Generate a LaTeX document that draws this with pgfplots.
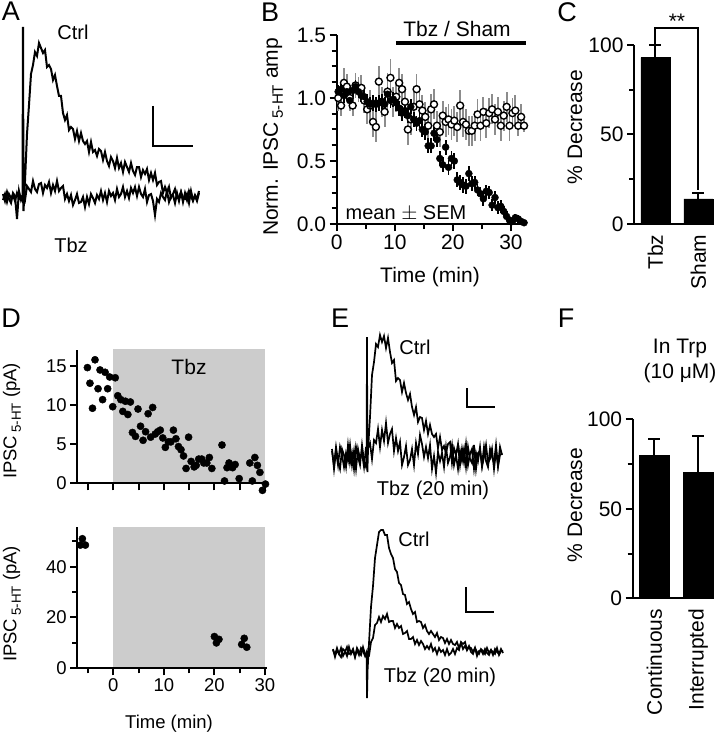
\documentclass[border=0pt]{standalone}
\usepackage{fontspec}
\setmainfont{Liberation Sans}
\usepackage{graphicx}
\usepackage{pgfplots}
\usepackage{pgfplotstable}
\pgfplotsset{compat=1.18}

\newcommand\fB{\fontsize{21}{25}\selectfont}
\newcommand\fD{\fontsize{18.5}{22}\selectfont}
\newcommand\fT{\fontsize{20}{24}\selectfont}
\newcommand\fL{\fontsize{27}{30}\selectfont}
\newcommand\sub[1]{\,\raisebox{-0.45ex}{\scalebox{0.72}{#1}}}

\pgfplotsset{
  prism/.style={scale only axis, anchor=south west, clip=false,
    axis lines=left, axis line style={line width=2pt,-},
    tick style={line width=2pt,black}, tick align=outside,
    major tick length=7pt, minor tick length=5pt,
    tick label style={font=\fB},
    /pgf/number format/assume math mode=true},
  trace/.style={scale only axis, anchor=south west, clip=false, hide axis},
}

% panel B: normalised IPSC amplitude, mean and SEM
\pgfplotstableread{
t tbz etbz sham esham
0.25 1.05 0.05 1.00 0.10
0.75 1.07 0.06 0.94 0.08
1.25 1.02 0.06 1.12 0.12
1.75 1.05 0.05 1.09 0.10
2.25 0.98 0.06 1.00 0.10
2.75 1.06 0.05 0.94 0.08
3.25 1.09 0.05 1.10 0.10
3.75 1.05 0.05 1.07 0.10
4.25 1.02 0.05 1.08 0.10
4.75 1.01 0.05 0.98 0.10
5.25 0.97 0.06 0.91 0.12
5.75 0.95 0.06 0.94 0.12
6.25 0.96 0.06 0.81 0.12
6.75 0.95 0.06 0.77 0.12
7.25 0.96 0.06 1.13 0.12
7.75 0.97 0.06 0.97 0.12
8.25 0.95 0.06 0.89 0.12
8.75 1.03 0.06 1.05 0.15
9.25 0.98 0.06 1.16 0.15
9.75 0.99 0.06 0.97 0.12
10.25 0.96 0.06 1.01 0.12
10.75 0.92 0.06 1.12 0.12
11.25 0.88 0.06 1.07 0.12
11.75 0.90 0.06 0.97 0.12
12.25 0.86 0.06 0.75 0.12
12.75 0.93 0.06 0.83 0.12
13.25 0.83 0.06 0.93 0.12
13.75 0.80 0.06 1.07 0.12
14.25 0.82 0.06 0.95 0.12
14.75 0.75 0.06 0.90 0.12
15.25 0.73 0.06 0.85 0.12
15.75 0.62 0.06 0.78 0.12
16.25 0.62 0.06 0.91 0.12
16.75 0.72 0.06 0.95 0.12
17.25 0.67 0.06 0.78 0.12
17.75 0.52 0.06 0.73 0.12
18.25 0.47 0.06 0.86 0.12
18.75 0.61 0.06 0.81 0.12
19.25 0.45 0.06 0.83 0.12
19.75 0.52 0.06 0.79 0.12
20.25 0.50 0.06 0.82 0.12
20.75 0.35 0.06 0.77 0.12
21.25 0.33 0.06 0.94 0.12
21.75 0.31 0.06 0.81 0.12
22.25 0.30 0.06 0.79 0.12
22.75 0.40 0.06 0.74 0.12
23.25 0.32 0.06 0.74 0.12
23.75 0.33 0.05 0.78 0.12
24.25 0.27 0.05 0.87 0.12
24.75 0.24 0.05 0.78 0.12
25.25 0.20 0.06 0.89 0.12
25.75 0.26 0.05 0.80 0.12
26.25 0.25 0.05 0.88 0.12
26.75 0.15 0.05 0.91 0.12
27.25 0.21 0.05 0.83 0.12
27.75 0.13 0.05 0.89 0.12
28.25 0.14 0.05 0.78 0.12
28.75 0.10 0.04 0.86 0.12
29.25 0.06 0.04 0.93 0.12
29.75 0.03 0.03 0.78 0.12
30.25 0.02 0.03 0.88 0.12
30.75 0.05 0.03 0.90 0.12
31.25 0.04 0.03 0.78 0.08
31.75 0.02 0.02 0.85 0.10
32.25 0.01 0.02 0.78 0.05
}\tabB

\begin{document}
\begin{tikzpicture}
\useasboundingbox (0,0) rectangle (722pt,-738pt);

% ---------- A: example traces
\begin{axis}[trace, at={(3pt,-222pt)}, width=197pt, height=195pt,
  xmin=0, xmax=197, ymin=-25, ymax=170]
\addplot[black, line width=2pt] coordinates {
(0,3)(2,-4)(4,5)(6,-2)(8,-6)(10,4)(12,1)(14,-22)(16,6)(18,-3)(20,2)(22,-3)(24,11)(26,8)(28,5)(30,16)(32,8)(34,5)(36,13)(38,14)(40,4)(42,12)(44,9)(46,15)(48,4)(50,12)(52,6)(54,16)(56,6)(58,9)(60,11)(62,-2)(64,3)(66,-4)(68,2)(70,-8)(72,-3)(74,3)(76,-6)(78,-5)(80,0)(82,-10)(84,0)(86,-7)(88,3)(90,-1)(92,-6)(94,2)(96,-2)(98,6)(100,-3)(102,4)(104,-5)(106,6)(108,1)(110,4)(112,-3)(114,8)(116,0)(118,3)(120,10)(122,0)(124,6)(126,-1)(128,9)(130,4)(132,10)(134,1)(136,10)(138,3)(140,0)(142,8)(144,-5)(146,2)(148,3)(150,-4)(152,-18)(154,-2)(156,-5)(158,4)(160,0)(162,-3)(164,6)(166,-5)(168,1)(170,2)(172,-6)(174,4)(176,-4)(178,5)(180,-1)(182,-2)(184,3)(186,-6)(188,6)(190,-3)(192,1)(194,-4)(196,4)};
\addplot[black, line width=2pt] coordinates {
(0,-3)(2,3)(4,-5)(6,3)(8,-1)(10,2)(12,-4)(14,4)(16,-2)(18,0)(19.5,-4)(20,170)(20.5,-14)(22,16)(24,63)(26,92)(28,123)(30,132)(32,145)(34,141)(36,154)(38,149)(40,144)(42,147)(44,130)(46,132)(48,128)(50,117)(52,122)(54,111)(56,101)(58,101)(60,84)(62,77)(64,82)(66,67)(68,70)(70,68)(72,58)(74,66)(76,56)(78,64)(80,56)(82,53)(84,56)(86,45)(88,55)(90,45)(92,47)(94,41)(96,48)(98,46)(100,37)(102,45)(104,36)(106,31)(108,40)(110,36)(112,29)(114,39)(116,29)(118,34)(120,25)(122,35)(124,30)(126,25)(128,34)(130,26)(132,22)(134,30)(136,30)(138,20)(140,27)(142,23)(144,28)(146,17)(148,24)(150,17)(152,24)(154,12)(156,15)(158,16)(160,4)(162,10)(164,4)(166,10)(168,-1)(170,3)(172,8)(174,-1)(176,0)(178,5)(180,-5)(182,4)(184,-3)(186,6)(188,1)(190,-4)(192,2)(194,-2)(196,6)};
\draw[line width=2pt] (axis cs:150,91) -- (axis cs:150,51) -- (axis cs:190,51);
\end{axis}

% ---------- B: time course
\begin{axis}[prism, at={(336.7pt,-224pt)}, width=188.8pt, height=189pt,
  xmin=0, xmax=32.5, ymin=0, ymax=1.5,
  xtick={0,10,20,30}, minor xtick={5,15,25},
  ytick={0,0.5,1,1.5}, yticklabels={0.0,0.5,1.0,1.5},
  minor ytick={0.125,0.25,0.375,0.625,0.75,0.875,1.125,1.25,1.375}]
\addplot[only marks, mark=*, mark size=3.5pt,
  mark options={fill=white, draw=black, line width=1.4pt},
  error bars/.cd, y dir=both, y explicit, error mark=none,
  error bar style={line width=1.8pt, black!45}]
  table[x=t, y=sham, y error=esham] {\tabB};
\addplot[only marks, mark=*, mark size=3.5pt,
  mark options={fill=black, draw=black},
  error bars/.cd, y dir=both, y explicit, error mark=none,
  error bar style={line width=1.8pt, black}]
  table[x=t, y=tbz, y error=etbz] {\tabB};
\draw[line width=4pt] (axis cs:10.2,1.44) -- (axis cs:32.6,1.44);
\end{axis}

% ---------- C: bar chart
\begin{axis}[prism, at={(634pt,-224pt)}, width=79pt, height=179pt,
  xmin=-0.5, xmax=1.34, ymin=0, ymax=100,
  ytick={0,50,100}, minor ytick={25,75},
  xtick=\empty]
\addplot[ybar, bar width=29pt, fill=black, draw=black,
  error bars/.cd, y dir=plus, y explicit,
  error bar style={line width=2pt, black},
  error mark options={rotate=90, mark size=6pt, line width=2pt}]
  coordinates {(0,93) +- (0,7) (1,14) +- (0,3.5)};
\draw[line width=2pt] (axis cs:0,100) -- (axis cs:0,109.5) -- (axis cs:1,109.5) -- (axis cs:1,19);
\node[font=\fB, anchor=south] at (axis cs:0.5,107) {**};
\node[font=\fB, rotate=90, anchor=east] at ([yshift=-7pt]axis cs:0,0) {Tbz};
\node[font=\fB, rotate=90, anchor=east] at ([yshift=-7pt]axis cs:1,0) {Sham};
\end{axis}

% ---------- D top: single cell
\begin{axis}[prism, axis on top, at={(77.3pt,-483.3pt)}, width=189.7pt, height=132.9pt,
  xmin=-7.1, xmax=30.4, ymin=0, ymax=17,
  xtick={-5,0,5,10,15,20,25,30}, xticklabels={},
  ytick={0,5,10,15}, tick label style={font=\fD}]
\addplot[fill=black!20, draw=none] coordinates {(0,17.2) (30,17.2)} \closedcycle;
\addplot[only marks, mark=*, mark size=3.6pt, black] coordinates {
(-5.1,14.8)(-4.6,12.8)(-4.1,9.6)(-3.6,15.8)(-3.0,12.1)(-2.6,14.5)(-2.1,10.7)(-1.6,14.2)(-1.1,12.1)(-0.7,13.6)(-0.1,9.8)(0.4,13.5)(0.9,11.2)(1.5,10.7)(1.9,9.2)(2.4,10.5)(2.9,8.8)(3.4,10.4)(3.8,6.5)(4.4,6.0)(4.9,9.5)(5.4,7.3)(5.9,5.5)(6.4,6.6)(6.9,8.9)(7.4,5.9)(7.8,9.7)(8.3,6.3)(8.8,6.6)(9.3,6.8)(9.8,5.8)(10.3,4.6)(10.9,5.3)(11.4,5.3)(11.9,6.8)(12.4,5.7)(12.9,4.7)(13.4,4.3)(13.9,3.5)(14.4,1.9)(14.9,5.9)(15.4,2.8)(16.0,2.1)(16.4,2.3)(16.9,3.1)(17.5,3.1)(17.9,2.6)(18.5,2.6)(19.0,3.3)(19.5,1.9)(21.5,4.9)(22.0,0.3)(22.5,2.0)(22.9,2.6)(23.6,2.0)(24.1,2.4)(24.9,0.6)(27.0,2.6)(27.5,0.3)(28.0,3.3)(28.5,2.3)(29.0,1.4)(29.5,-0.9)(30.1,-0.1)};
\end{axis}

% ---------- D bottom: interrupted recording
\begin{axis}[prism, axis on top, at={(77.3pt,-668.3pt)}, width=189.7pt, height=141pt,
  xmin=-7.1, xmax=30.4, ymin=0, ymax=55.5,
  xtick={0,10,20,30}, minor xtick={-5,5,15,25},
  ytick={0,20,40}, minor ytick={10,30,50}, tick label style={font=\fD}]
\addplot[fill=black!20, draw=none] coordinates {(0,55.5) (30,55.5)} \closedcycle;
\addplot[only marks, mark=*, mark size=3.6pt, black] coordinates {
(-6.5,48.5)(-6.1,51.0)(-5.5,48.5)(20.0,12.5)(20.4,10.0)(20.9,11.4)(25.4,9.4)(25.9,11.8)(26.4,8.3)};
\end{axis}

% ---------- E top traces
\begin{axis}[trace, at={(332pt,-482pt)}, width=171pt, height=150pt,
  xmin=0, xmax=171, ymin=-25, ymax=125]
\addplot[black, line width=1.7pt] coordinates {
(0,6)(2,-8)(4,10)(6,-4)(8,-12)(10,8)(12,2)(14,-10)(16,12)(18,-6)(20,4)(22,-12)(24,10)(26,0)(28,-8)(30,12)(32,-4)(34,-10)(36,9)(38,14)(40,-2)(42,17)(44,14)(46,28)(48,10)(50,27)(52,16)(54,34)(56,14)(58,23)(60,28)(62,6)(64,19)(66,6)(68,15)(70,-8)(72,0)(74,11)(76,-8)(78,-3)(80,8)(82,-8)(84,14)(86,3)(88,22)(90,13)(92,0)(94,10)(96,-1)(98,12)(100,-12)(102,1)(104,-16)(106,5)(108,-4)(110,4)(112,-10)(114,10)(116,-6)(118,0)(120,12)(122,-8)(124,2)(126,-12)(128,6)(130,-4)(132,8)(134,-10)(136,10)(138,-2)(140,-6)(142,12)(144,-12)(146,4)(148,6)(150,-8)(152,10)(154,-4)(156,-10)(158,8)(160,0)(162,-6)(164,12)(166,-10)(168,2)(170,4)};
\addplot[black, line width=1.7pt] coordinates {
(0,8)(2,-12)(4,6)(6,-8)(8,10)(10,2)(12,-10)(14,4)(16,-4)(18,12)(20,-8)(22,6)(24,-12)(26,8)(28,-2)(30,4)(32,-10)(34,10)(34.6,0)(35,120)(35.4,-15)(36,6)(38,40)(40,82)(42,95)(44,113)(46,110)(48,122)(50,115)(52,121)(54,109)(56,119)(58,105)(60,94)(62,97)(64,76)(66,79)(68,77)(70,65)(72,74)(74,64)(76,57)(78,63)(80,50)(82,42)(84,50)(86,35)(88,40)(90,39)(92,27)(94,36)(96,23)(98,32)(100,23)(102,20)(104,23)(106,9)(108,20)(110,7)(112,11)(114,4)(116,13)(118,15)(120,-6)(122,9)(124,2)(126,13)(128,-8)(130,8)(132,-5)(134,13)(136,-8)(138,3)(140,8)(142,-12)(144,4)(146,-4)(148,10)(150,-10)(152,0)(154,12)(156,-6)(158,-2)(160,8)(162,-12)(164,6)(166,-8)(168,10)(170,2)};
\draw[line width=2pt] (axis cs:135,69) -- (axis cs:135,50) -- (axis cs:163,50);
\end{axis}

% ---------- E bottom traces
\begin{axis}[trace, at={(333pt,-702pt)}, width=171pt, height=175pt,
  xmin=0, xmax=171, ymin=-50, ymax=125]
\addplot[black, line width=1.7pt] coordinates {
(0,2)(2,-3)(4,4)(6,-2)(8,-5)(10,3)(12,1)(14,-4)(16,5)(18,-2)(20,2)(22,-5)(24,4)(26,0)(28,-3)(30,5)(32,-2)(34,-6)(36,-4)(38,10)(40,14)(42,27)(44,29)(46,35)(48,30)(50,36)(52,33)(54,38)(56,30)(58,31)(60,31)(62,24)(64,28)(66,24)(68,26)(70,18)(72,19)(74,21)(76,13)(78,13)(80,15)(82,8)(84,12)(86,7)(88,11)(90,8)(92,3)(94,6)(96,3)(98,8)(100,1)(102,4)(104,-2)(106,4)(108,0)(110,2)(112,-3)(114,3)(116,-3)(118,-1)(120,3)(122,-2)(124,4)(126,2)(128,10)(130,8)(132,10)(134,2)(136,6)(138,0)(140,-2)(142,4)(144,-4)(146,1)(148,2)(150,-2)(152,3)(154,-1)(156,-3)(158,2)(160,0)(162,-2)(164,4)(166,-3)(168,1)(170,1)};
\addplot[black, line width=1.7pt] coordinates {
(0,3)(2,-5)(4,2)(6,-2)(8,4)(10,-4)(12,0)(14,5)(16,-2)(18,-1)(20,3)(22,-5)(24,2)(26,-3)(28,4)(30,1)(32,-4)(33.6,0)(34,-46)(34.6,-18)(36,9)(38,45)(40,66)(42,94)(44,107)(46,120)(48,122)(50,122)(52,117)(54,117)(56,104)(58,98)(60,94)(62,83)(64,80)(66,69)(68,67)(70,58)(72,57)(74,48)(76,50)(78,43)(80,38)(82,40)(84,30)(86,31)(88,30)(90,24)(92,27)(94,21)(96,18)(98,21)(100,18)(102,15)(104,19)(106,12)(108,15)(110,14)(112,9)(114,13)(116,8)(118,12)(120,8)(122,7)(124,10)(126,4)(128,9)(130,3)(132,6)(134,2)(136,5)(138,4)(140,0)(142,4)(144,0)(146,-2)(148,3)(150,1)(152,-2)(154,4)(156,-1)(158,2)(160,-3)(162,3)(164,0)(166,-2)(168,3)(170,-1)};
\draw[line width=2pt] (axis cs:133,65) -- (axis cs:133,40) -- (axis cs:161,40);
\end{axis}

% ---------- F: bar chart in Trp
\begin{axis}[prism, at={(632.7pt,-598.3pt)}, width=80pt, height=179pt,
  xmin=-0.49, xmax=1.33, ymin=0, ymax=100,
  ytick={0,50,100}, minor ytick={25,75},
  xtick=\empty]
\addplot[ybar, bar width=30pt, fill=black, draw=black,
  error bars/.cd, y dir=plus, y explicit,
  error bar style={line width=2pt, black},
  error mark options={rotate=90, mark size=6pt, line width=2pt}]
  coordinates {(0,79.7) +- (0,9.3) (1,70.2) +- (0,20.5)};
\node[font=\fB, rotate=90, anchor=east] at ([yshift=-7pt]axis cs:0,0) {Continuous};
\node[font=\fB, rotate=90, anchor=east] at ([yshift=-7pt]axis cs:1,0) {Interrupted};
\end{axis}

% ---------- labels
\node[font=\fL] at (11pt,-11pt) {A};
\node[font=\fL] at (270pt,-12pt) {B};
\node[font=\fL] at (567pt,-12pt) {C};
\node[font=\fL] at (11pt,-318pt) {D};
\node[font=\fL] at (340pt,-318pt) {E};
\node[font=\fL] at (566pt,-318pt) {F};

\node[font=\fT] at (73pt,-32pt) {Ctrl};
\node[font=\fT] at (71pt,-245pt) {Tbz};

\node[font=\fB, rotate=90] at (273pt,-137pt) {Norm. IPSC\sub{5-HT} amp};
\node[font=\fB] at (430pt,-277pt) {Time (min)};
\node[font=\fT] at (406pt,-213pt) {mean $\pm$ SEM};
\node[font=\fB] at (457pt,-29pt) {Tbz / Sham};

\node[font=\fB, rotate=90] at (575pt,-127pt) {\% Decrease};

\node[font=\fD, rotate=90] at (12pt,-421pt) {IPSC\sub{5-HT} (pA)};
\node[font=\fD, rotate=90] at (12pt,-604pt) {IPSC\sub{5-HT} (pA)};
\node[font=\fB] at (189pt,-367pt) {Tbz};
\node[font=\fD] at (169pt,-724pt) {Time (min)};

\node[font=\fT] at (415pt,-347pt) {Ctrl};
\node[font=\fT] at (433pt,-490pt) {Tbz (20 min)};
\node[font=\fT] at (414pt,-539pt) {Ctrl};
\node[font=\fT] at (440pt,-677pt) {Tbz (20 min)};

\node[font=\fB] at (680pt,-348pt) {In Trp};
\node[font=\fB] at (680pt,-373pt) {(10 μM)};
\node[font=\fB, rotate=90] at (575pt,-505pt) {\% Decrease};
\end{tikzpicture}
\end{document}
